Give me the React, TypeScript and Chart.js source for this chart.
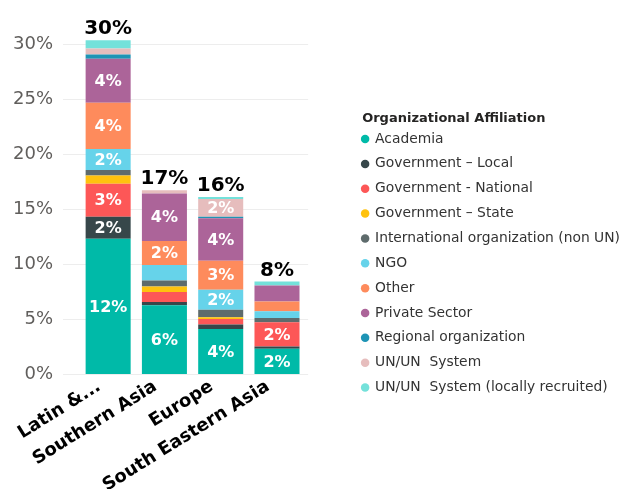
import React, { useEffect, useRef } from "react";
import { Chart, registerables } from "chart.js";

Chart.register(...registerables);

const categories = ["Latin &...", "Southern Asia", "Europe", "South Eastern Asia"];

const legendTitle = "Organizational Affiliation";

const seriesNames = [
  "Academia",
  "Government – Local",
  "Government - National",
  "Government – State",
  "International organization (non UN)",
  "NGO",
  "Other",
  "Private Sector",
  "Regional organization",
  "UN/UN  System",
  "UN/UN  System (locally recruited)",
];

const academia = [12.3, 6.25, 4.1, 2.3];
const govLocal = [2.0, 0.3, 0.4, 0.2];
const govNational = [3.0, 0.9, 0.5, 2.2];
const govState = [0.75, 0.5, 0.15, 0];
const intlOrg = [0.5, 0.55, 0.7, 0.4];
const ngo = [1.9, 1.4, 1.8, 0.6];
const other = [4.2, 2.2, 2.65, 0.9];
const privateSector = [4.0, 4.3, 3.85, 1.45];
const regionalOrg = [0.4, 0, 0.15, 0];
const unSystem = [0.55, 0.3, 1.6, 0];
const unLocal = [0.75, 0, 0.2, 0.35];

const seriesValues = [
  academia,
  govLocal,
  govNational,
  govState,
  intlOrg,
  ngo,
  other,
  privateSector,
  regionalOrg,
  unSystem,
  unLocal,
];

const seriesColors = [
  "#00BAA8",
  "#37474A",
  "#FD5757",
  "#FFC20E",
  "#5E6B6C",
  "#66D3EA",
  "#FE8B5C",
  "#AC6499",
  "#1E94B5",
  "#E6BDBD",
  "#74E1DA",
];

const yTicks = [0, 5, 10, 15, 20, 25, 30];

const FONT = "'DejaVu Sans', sans-serif";

export default function App() {
  const ref = useRef<HTMLCanvasElement>(null);

  useEffect(() => {
    document.body.style.margin = "0";
    const canvas = ref.current;
    if (!canvas) return;

    const gridPlugin = {
      id: "customGrid",
      beforeDatasetsDraw(chart: any) {
        const { ctx, chartArea, scales } = chart;
        const y = scales.y;
        ctx.save();
        ctx.strokeStyle = "#EDEDED";
        ctx.lineWidth = 1;
        for (const t of yTicks) {
          const py = Math.round(y.getPixelForValue(t)) + 0.5;
          ctx.beginPath();
          ctx.moveTo(chartArea.left - 17, py);
          ctx.lineTo(chartArea.right + 3, py);
          ctx.stroke();
        }
        ctx.restore();
      },
    };

    const labelPlugin = {
      id: "barLabels",
      afterDatasetsDraw(chart: any) {
        const { ctx, scales } = chart;
        const y = scales.y;
        ctx.save();
        ctx.textAlign = "center";
        ctx.textBaseline = "middle";
        ctx.fillStyle = "#FFFFFF";
        ctx.font = `bold 16px ${FONT}`;
        chart.data.datasets.forEach((ds: any, di: number) => {
          const meta = chart.getDatasetMeta(di);
          meta.data.forEach((el: any, i: number) => {
            const v = ds.data[i];
            if (v >= 1.5) {
              ctx.fillText(`${Math.round(v)}%`, el.x, (el.y + el.base) / 2 + 1);
            }
          });
        });
        ctx.fillStyle = "#000000";
        ctx.font = `bold 20px ${FONT}`;
        ctx.textBaseline = "alphabetic";
        categories.forEach((_, i) => {
          let sum = 0;
          chart.data.datasets.forEach((ds: any) => (sum += ds.data[i] || 0));
          const el = chart.getDatasetMeta(0).data[i];
          const top = y.getPixelForValue(sum);
          ctx.fillText(`${Math.round(sum)}%`, el.x, top - 6);
        });
        ctx.restore();
      },
    };

    const legendTitlePlugin = {
      id: "legendTitle",
      afterDraw(chart: any) {
        const lg = chart.legend;
        if (!lg || !lg.legendHitBoxes || !lg.legendHitBoxes.length) return;
        const hb = lg.legendHitBoxes[0];
        const { ctx } = chart;
        ctx.save();
        ctx.fillStyle = "#252423";
        ctx.font = `bold 13px ${FONT}`;
        ctx.textAlign = "left";
        ctx.textBaseline = "middle";
        ctx.fillText(legendTitle, hb.left, hb.top + 7 - 21);
        ctx.restore();
      },
    };

    const chart = new Chart(canvas, {
      type: "bar",
      data: {
        labels: categories,
        datasets: seriesNames.map((name, i) => ({
          label: name,
          data: seriesValues[i],
          backgroundColor: seriesColors[i],
          borderWidth: 0,
          barPercentage: 0.8,
          categoryPercentage: 1,
          stack: "s",
        })),
      },
      options: {
        animation: false,
        responsive: true,
        maintainAspectRatio: false,
        layout: { padding: { top: 22, left: 0, right: -9, bottom: 0 } },
        scales: {
          x: {
            stacked: true,
            grid: { display: false, drawTicks: false },
            border: { display: false },
            ticks: {
              autoSkip: false,
              maxRotation: 32,
              minRotation: 32,
              padding: 2,
              labelOffset: -9,
              color: "#000000",
              font: { family: FONT, size: 18, weight: "bold" },
            },
            afterFit(scale: any) {
              scale.height = 115;
              scale.paddingLeft = 0;
              scale.paddingRight = 0;
            },
          },
          y: {
            stacked: true,
            min: 0,
            max: 32,
            grid: { display: false, drawTicks: false },
            border: { display: false },
            ticks: {
              stepSize: 5,
              padding: 27,
              color: "#605E5C",
              font: { family: FONT, size: 18 },
              callback: (v: any) => (Number(v) % 5 === 0 ? `${v}%` : ""),
            },
            afterFit(scale: any) {
              scale.width = 80;
              scale.paddingTop = 0;
              scale.paddingBottom = 0;
            },
          },
          y2: {
            position: "right",
            display: true,
            grid: { display: false, drawTicks: false },
            border: { display: false },
            ticks: { display: false },
            afterFit(scale: any) {
              scale.width = 46;
              scale.paddingTop = 0;
              scale.paddingBottom = 0;
            },
          },
        },
        plugins: {
          tooltip: { enabled: false },
          legend: {
            position: "right",
            align: "center",
            maxWidth: 300,
            title: {
              display: true,
              text: legendTitle,
              position: "start",
              color: "rgba(0,0,0,0)",
              font: { family: FONT, size: 13, weight: "bold" },
              padding: { top: 0, bottom: 0 },
            },
            labels: {
              usePointStyle: true,
              pointStyle: "circle",
              boxWidth: 6,
              boxHeight: 6,
              padding: 11,
              color: "#333333",
              font: { family: FONT, size: 13.85 },
            },
          },
        },
      },
      plugins: [gridPlugin, labelPlugin, legendTitlePlugin],
    });

    return () => chart.destroy();
  }, []);

  return (
    <div style={{ position: "fixed", left: 0, top: 0, width: 621, height: 489, overflow: "hidden" }}>
      <canvas ref={ref} />
    </div>
  );
}
